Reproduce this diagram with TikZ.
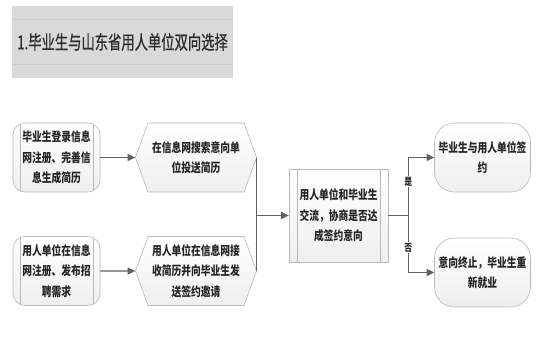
\documentclass[tikz,border=0pt]{standalone}
\usepackage{fontspec}
\newfontfamily\cjk[FakeStretch=0.78]{Noto Sans CJK SC}
\newfontfamily\cjktitle[FakeStretch=0.7, FakeBold=0.8]{Noto Sans CJK SC}
\usetikzlibrary{shapes.symbols, arrows.meta, positioning, calc}
\tikzset{every node/.append style={align=center, inner sep=2pt}}

\begin{document}
\begin{tikzpicture}[x=1pt, y=-1pt,
    font=\cjk\bfseries\fontsize{12.5}{20.5}\selectfont,
    base/.style={draw=gray!55, line width=0.6pt, top color=white,
        bottom color=gray!13, text=black!85},
    inlines/.style={path picture={\draw[gray!55, line width=0.6pt]
        ([xshift=#1]path picture bounding box.north west) --
        ([xshift=#1]path picture bounding box.south west)
        ([xshift=-#1]path picture bounding box.north east) --
        ([xshift=-#1]path picture bounding box.south east);}},
    reg/.style={base, rectangle, rounded corners=12pt, inlines=7pt,
        minimum width=87pt, minimum height=69pt, text width=76pt},
    hexa/.style={base, signal, signal to=east and west, signal pointer angle=140,
        minimum width=118pt, minimum height=69pt, text width=92pt},
    pred/.style={base, rectangle, inlines=8pt,
        minimum width=99pt, minimum height=93pt, text width=84pt},
    term/.style={base, rectangle, rounded corners=20pt,
        minimum width=91pt, minimum height=69pt, text width=92pt},
    ttl/.style={rectangle, fill=gray!30, minimum width=221pt, minimum height=72pt,
        text=black!82, font=\cjktitle\fontsize{19}{21}\selectfont,
        path picture={\draw[gray!40, line width=0.4pt]
        ([yshift=-13pt]path picture bounding box.north west) --
        ([yshift=-13pt]path picture bounding box.north east)
        ([yshift=14pt]path picture bounding box.south west) --
        ([yshift=14pt]path picture bounding box.south east);}},
    a/.style={-{Triangle[length=7.5pt, width=7pt]}, line width=1.2pt, draw=black!62},
    ln/.style={line width=1.2pt, draw=black!62},
    lab/.style={fill=white, inner sep=1pt, text=black!85,
        font=\cjk\bfseries\fontsize{10}{11}\selectfont}
]
\useasboundingbox (0,0) rectangle (553,346);
% ===== TITLE =====
\node[ttl] (head) at (122.5,42) {1.毕业生与山东省用人单位双向选择};
% ===== LEFT: REGISTRATION =====
\node[reg]  (stu)  at (56.5,157.5) {毕业生登录信息\\网注册、完善信\\息生成简历};
\node[hexa] (srch) at (196,157.5)  {在信息网搜索意向单\\位投送简历};
\node[reg]  (emp)  at (56.5,271)   {用人单位在信息\\网注册、发布招\\聘需求};
\node[hexa] (recv) at (196,271)    {用人单位在信息网接\\收简历并向毕业生发\\送签约邀请};
\draw[a] (stu)--(srch); \draw[a] (emp)--(recv);
% ===== MIDDLE: NEGOTIATION =====
\node[pred] (talk) at (338.5,215.5) {用人单位和毕业生\\交流，协商是否达\\成签约意向};
\draw[ln] (srch.east) -- (recv.east);
\coordinate (jn) at (srch.east |- talk.west);
\draw[a] (jn) -- (talk.west);
% ===== RIGHT: RESULT =====
\node[term] (sign) at (482.5,157.5) {毕业生与用人单位签\\约};
\node[term] (stop) at (482.5,272.5) {意向终止，毕业生重\\新就业};
\coordinate (br) at ($(talk.east)+(20,0)$);
\draw[ln] (talk.east) -- (br);
\draw[a] (br) |- node[lab, pos=0.29] {是} (sign.west);
\draw[a] (br) |- node[lab, pos=0.28] {否} (stop.west);
\end{tikzpicture}
\end{document}
